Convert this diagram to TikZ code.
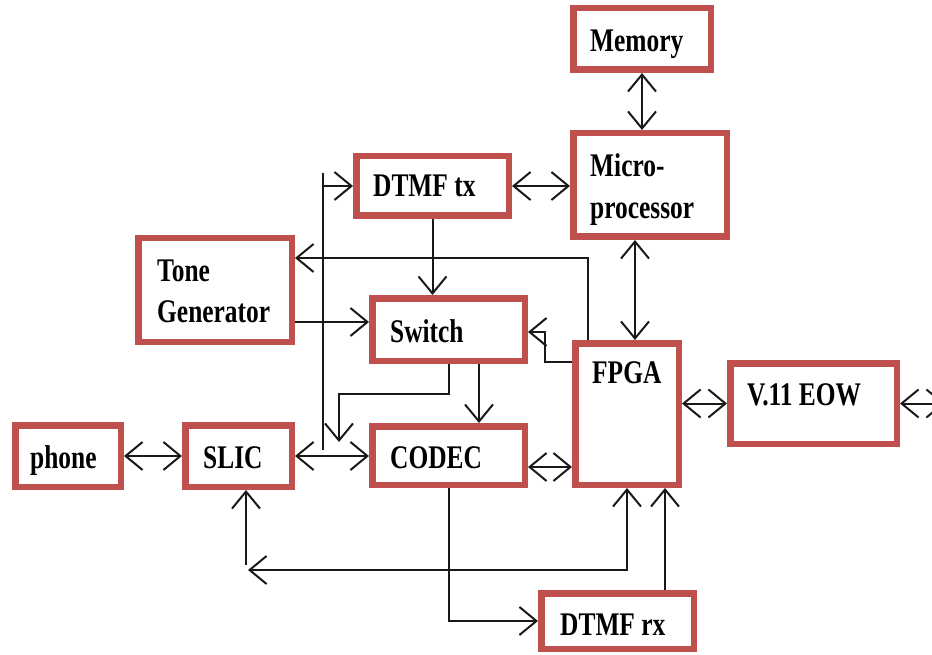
\documentclass[tikz,border=0pt]{standalone}
\usepackage{fontspec}
\newfontfamily\boxfont[FakeStretch=0.77]{Liberation Serif}
\usetikzlibrary{arrows.meta}
\definecolor{boxred}{HTML}{C0504D}
\begin{document}
\begin{tikzpicture}[x=1pt,y=-1pt,
  blk/.style={draw=boxred,line width=6.5pt,fill=white,rectangle,inner sep=0pt},
  txt/.style={font=\boxfont\bfseries\fontsize{33}{40}\selectfont,inner sep=0pt,anchor=base west},
  conn/.style={line width=2pt,draw=black!90},
  >={Straight Barb[length=17pt,width=28pt,line width=2pt]}]
\useasboundingbox (0,0) rectangle (932,655);
% boxes
\node[blk,minimum width=137.5pt,minimum height=61.5pt] (mem) at (642,39) {};
\node[blk,minimum width=153.5pt,minimum height=103.5pt] (micro) at (650,185) {};
\node[blk,minimum width=152.5pt,minimum height=59.5pt] (dtx) at (432.5,186) {};
\node[blk,minimum width=153.5pt,minimum height=103.5pt] (tone) at (215,290) {};
\node[blk,minimum width=152.5pt,minimum height=62.5pt] (sw) at (448.5,329.5) {};
\node[blk,minimum width=103.5pt,minimum height=141.5pt] (fpga) at (627,414) {};
\node[blk,minimum width=166.5pt,minimum height=80.5pt] (v11) at (813.5,403.5) {};
\node[blk,minimum width=105.5pt,minimum height=61.5pt] (phone) at (68,456) {};
\node[blk,minimum width=106.5pt,minimum height=61.5pt] (slic) at (238.5,456) {};
\node[blk,minimum width=152.5pt,minimum height=58.5pt] (codec) at (448.5,455.5) {};
\node[blk,minimum width=152.5pt,minimum height=55.5pt] (drx) at (617.5,621) {};
% texts
\node[txt] (memt) at (590,52) {Memory};
\node[txt] (microt1) at (590,177) {Micro-};
\node[txt] (microt2) at (590,219) {processor};
\node[txt] (dtxt) at (373,197) {DTMF tx};
\node[txt] (tonet1) at (157,282) {Tone};
\node[txt] (tonet2) at (157,322) {Generator};
\node[txt] (swt) at (390,342) {Switch};
\node[txt] (fpgat) at (592,383) {FPGA};
\node[txt] (v11t) at (747,405) {V.11 EOW};
\node[txt] (phonet) at (30,468) {phone};
\node[txt] (slict) at (203,468) {SLIC};
\node[txt] (codect) at (390,468) {CODEC};
\node[txt] (drxt) at (560,635) {DTMF rx};
% free ends
\coordinate (vtop) at (323,173);
\coordinate (vbot) at (323,450);
\coordinate (swend) at (339,442);
\coordinate (lcorner) at (248,570);
\coordinate (sbot) at (246,565);
\coordinate (offr) at (945,403.5);
% connectors
\draw[conn,<->] (mem.south) -- (mem.south |- micro.north);
\draw[conn,<->] ([xshift=-15pt]micro.south) -- ([xshift=-15pt]micro.south |- fpga.north);
\draw[conn,<->] (dtx.east) -- (dtx.east -| micro.west);
\draw[conn,->] (dtx.south) -- (dtx.south |- sw.north);
\draw[conn,->] ([yshift=-32pt]tone.east) -- ([yshift=-32pt]tone.east -| sw.west);
\draw[conn,->] ([xshift=-39pt]fpga.north) |- ([yshift=32pt]tone.east);
\draw[conn,->] ([yshift=52pt]fpga.west) -- ++(-27pt,0pt) |- ([yshift=-2.5pt]sw.east);
\draw[conn,->] ([xshift=30.5pt]sw.south) -- ([xshift=30.5pt]sw.south |- codec.north);
\draw[conn,->] (sw.south) -- ++(0pt,-30pt) -| (swend);
\draw[conn] (vtop) -- (vbot);
\draw[conn,->] (vtop |- dtx.west) -- (dtx.west);
\draw[conn,<->] (phone.east) -- (slic.west);
\draw[conn,<->] (slic.east) -- (slic.east -| codec.west);
\draw[conn,<->] ([yshift=-11.5pt]codec.east) -- ([yshift=-11.5pt]codec.east -| fpga.west);
\draw[conn,<->] (v11.west -| fpga.east) -- (v11.west);
\draw[conn,<->] (v11.east) -- (offr);
\draw[conn,->] (codec.south) |- (drx.west);
\draw[conn,->] ([xshift=47.5pt]drx.north) -- ([xshift=47.5pt]drx.north |- fpga.south);
\draw[conn,<->] (fpga.south) |- (lcorner);
\draw[conn,->] (sbot) -- (sbot |- slic.south);
\end{tikzpicture}
\end{document}
